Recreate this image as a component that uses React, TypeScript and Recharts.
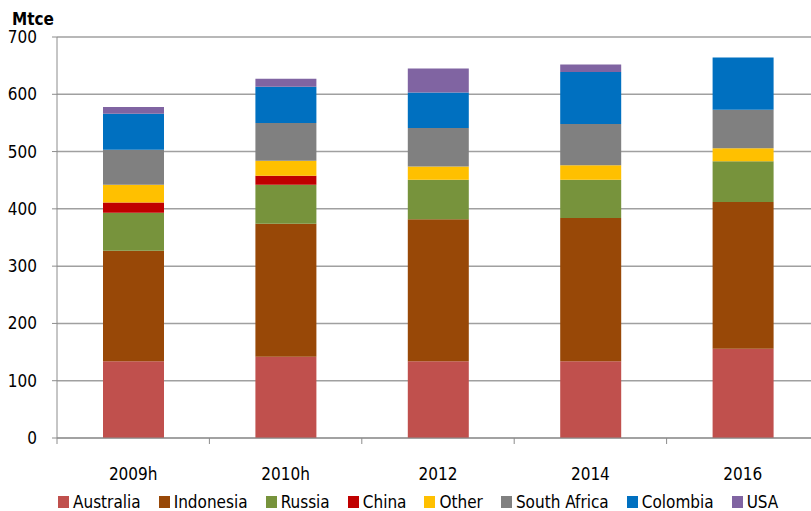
import { BarChart, Bar, XAxis, YAxis, CartesianGrid, Legend } from "recharts";

const years = ["2009h", "2010h", "2012", "2014", "2016"];

const australia = [134, 142, 134, 134, 156];
const indonesia = [193, 232, 248, 250, 256];
const russia = [66, 68, 69, 67, 71];
const china = [18, 16, 0, 0, 0];
const other = [31, 26, 23, 25, 23];
const southAfrica = [61, 66, 67, 72, 67];
const colombia = [63, 63, 62, 91, 91];
const usa = [12, 14, 42, 13, 0];

const yTicks = [0, 100, 200, 300, 400, 500, 600, 700];

const series = [
  { key: "Australia", values: australia, color: "#C0504D" },
  { key: "Indonesia", values: indonesia, color: "#984807" },
  { key: "Russia", values: russia, color: "#77933C" },
  { key: "China", values: china, color: "#C00000" },
  { key: "Other", values: other, color: "#FFC000" },
  { key: "South Africa", values: southAfrica, color: "#808080" },
  { key: "Colombia", values: colombia, color: "#0070C0" },
  { key: "USA", values: usa, color: "#8064A2" },
];

const data = years.map((year, i) => {
  const row: Record<string, string | number> = { year };
  series.forEach((s) => {
    row[s.key] = s.values[i];
  });
  return row;
});

const FONT = "'DejaVu Sans Condensed', 'Liberation Sans', sans-serif";

// category labels, plus the small tick mark sitting on the left edge of each band
function XTick(props: any) {
  const { x, y, payload } = props;
  const half = payload && payload.offset ? payload.offset : 76;
  return (
    <g>
      <line x1={x - half} x2={x - half} y1={y - 8} y2={y - 2} stroke="#8c8c8c" />
      <text x={x} y={y + 34} textAnchor="middle" fontSize={17} fill="#000" fontFamily={FONT}>
        {payload.value}
      </text>
    </g>
  );
}

function LegendBox() {
  return (
    <div style={{ display: "flex", fontFamily: FONT, fontSize: 17, color: "#000", paddingTop: 18, lineHeight: "20px" }}>
      {series.map((s) => (
        <div key={s.key} style={{ display: "flex", alignItems: "center", marginRight: 18 }}>
          <span style={{ width: 11, height: 12, background: s.color, display: "inline-block", marginRight: 4 }} />
          <span>{s.key}</span>
        </div>
      ))}
    </div>
  );
}

export default function App() {
  return (
    <div style={{ position: "fixed", left: 0, top: 0, width: 811, height: 511, overflow: "hidden", background: "#fff" }}>
      <div style={{ position: "absolute", left: 12, top: 9, fontFamily: FONT, fontWeight: "bold", fontSize: 17 }}>
        Mtce
      </div>
      <BarChart
        width={819}
        height={511}
        data={data}
        margin={{ top: 37, right: 0, bottom: 0, left: 0 }}
        barCategoryGap={0}
      >
        <CartesianGrid vertical={false} stroke="#a0a0a0" strokeWidth={1.5} />
        <XAxis
          dataKey="year"
          height={36}
          tickLine={false}
          axisLine={{ stroke: "#8c8c8c" }}
          tick={<XTick />}
          interval={0}
        />
        <YAxis
          width={57}
          domain={[0, 700]}
          ticks={yTicks}
          tickSize={5}
          tickMargin={15}
          axisLine={{ stroke: "#8c8c8c" }}
          tickLine={{ stroke: "#8c8c8c" }}
          tick={{ fontSize: 17, fill: "#000", fontFamily: FONT }}
        />
        <Legend
          verticalAlign="bottom"
          height={37}
          content={<LegendBox />}
          wrapperStyle={{ left: 58, width: 760, height: 37 }}
        />
        {series.map((s) => (
          <Bar
            key={s.key}
            dataKey={s.key}
            stackId="a"
            fill={s.color}
            barSize={61}
            isAnimationActive={false}
          />
        ))}
      </BarChart>
    </div>
  );
}
